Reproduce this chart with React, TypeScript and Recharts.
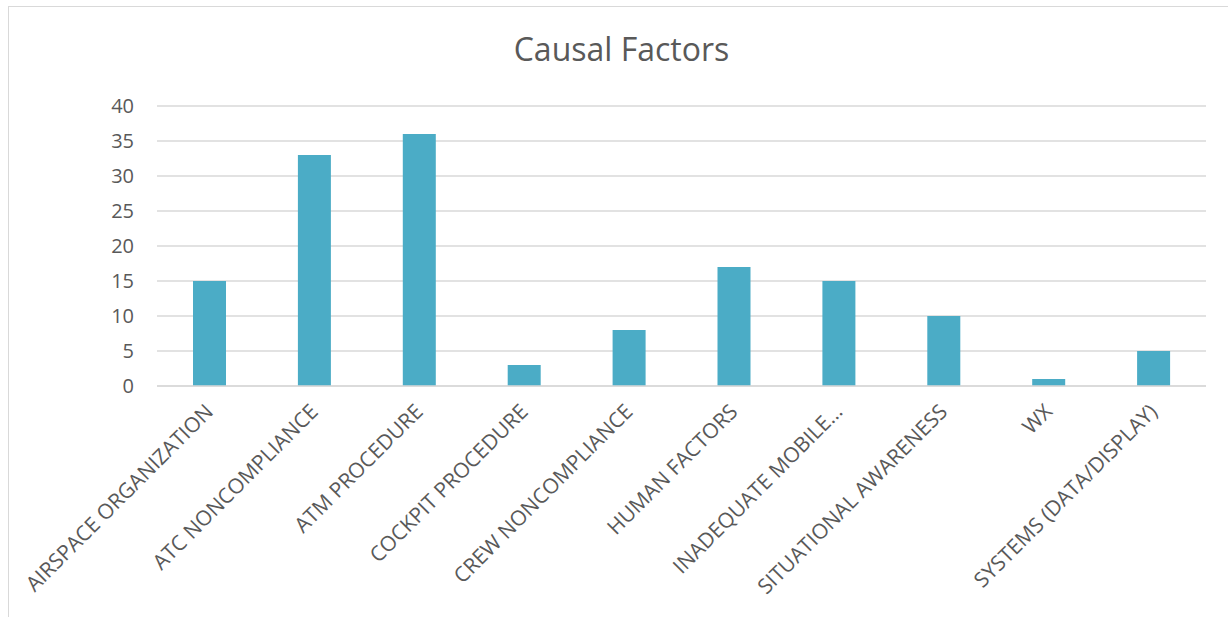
import React from 'react'
import { BarChart, Bar, XAxis, YAxis, CartesianGrid } from 'recharts'

const categories = [
  'AIRSPACE ORGANIZATION',
  'ATC NONCOMPLIANCE',
  'ATM PROCEDURE',
  'COCKPIT PROCEDURE',
  'CREW NONCOMPLIANCE',
  'HUMAN FACTORS',
  'INADEQUATE MOBILE…',
  'SITUATIONAL AWARENESS',
  'WX',
  'SYSTEMS (DATA/DISPLAY)',
]
const counts = [15, 33, 36, 3, 8, 17, 15, 10, 1, 5]
const yTicks = [0, 5, 10, 15, 20, 25, 30, 35, 40]

const data = categories.map((name, i) => ({ name, value: counts[i] }))

const FONT = '"Open Sans", sans-serif'
const TEXT = '#595959'

function CategoryTick(props: any) {
  const { x, y, payload } = props
  const ax = x + 5
  const ay = y + 27
  return (
    <text
      x={ax}
      y={ay}
      textAnchor="end"
      transform={`rotate(-45, ${ax}, ${ay})`}
      fill={TEXT}
      fontSize={21}
      fontFamily={FONT}
    >
      {payload.value}
    </text>
  )
}

export default function App() {
  return (
    <div style={{ position: 'absolute', left: 0, top: 0, width: 1228, height: 617, background: '#fff', overflow: 'hidden' }}>
      {/* chart frame, runs off the right and bottom edges */}
      <div style={{ position: 'absolute', left: 8, top: 6, width: 1400, height: 800, border: '1.5px solid #d9d9d9', boxSizing: 'border-box' }} />
      <div style={{
        position: 'absolute', left: 0, width: 1243, top: 27, textAlign: 'center',
        fontFamily: FONT, fontSize: 32, color: TEXT,
      }}>
        Causal Factors
      </div>
      <div style={{ position: 'absolute', left: 0, top: 0 }}>
        <BarChart width={1228} height={617} data={data} margin={{ top: 106, right: 22, left: 97, bottom: 0 }}>
          <CartesianGrid vertical={false} stroke="#d9d9d9" strokeWidth={1.5} />
          <XAxis
            dataKey="name"
            interval={0}
            axisLine={{ stroke: '#d9d9d9', strokeWidth: 1.5 }}
            tickLine={false}
            tickSize={0}
            tickMargin={0}
            height={231}
            tick={<CategoryTick />}
          />
          <YAxis
            width={60}
            domain={[0, 40]}
            ticks={yTicks}
            interval={0}
            axisLine={false}
            tickLine={false}
            tickSize={0}
            tickMargin={23}
            tick={{ fill: TEXT, fontSize: 20, fontFamily: FONT }}
          />
          <Bar dataKey="value" fill="#4bacc6" barSize={33} isAnimationActive={false} />
        </BarChart>
      </div>
    </div>
  )
}
